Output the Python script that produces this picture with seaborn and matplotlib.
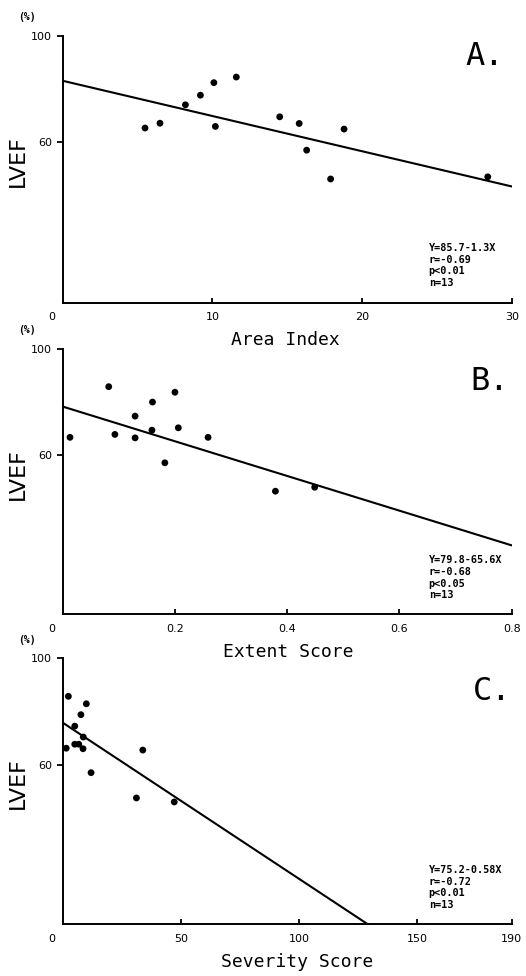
import numpy as np
import pandas as pd
import matplotlib
matplotlib.use("Agg")
import matplotlib.pyplot as plt
import seaborn as sns

# ---------------- data ----------------
area_index = [5.5, 6.5, 8.2, 9.2, 10.1, 10.2, 11.6, 14.5, 15.8, 16.3, 17.9, 18.8, 28.4]
lvef_a = [65.4, 67.2, 74.1, 77.7, 82.4, 66.0, 84.5, 69.6, 67.1, 57.1, 46.3, 65.0, 47.1]

extent_score = [0.013, 0.082, 0.093, 0.129, 0.129, 0.160, 0.159, 0.182, 0.200, 0.206, 0.259, 0.379, 0.449]
lvef_b = [66.7, 85.8, 67.8, 74.7, 66.5, 80.0, 69.4, 57.1, 83.7, 70.3, 66.7, 46.4, 47.9]

severity_score = [1.5, 2.4, 5.1, 5.1, 6.8, 7.7, 8.6, 8.7, 10.0, 12.0, 31.2, 33.9, 47.2]
lvef_c = [66.2, 85.7, 74.5, 67.7, 67.7, 78.8, 66.0, 70.4, 82.9, 57.0, 47.5, 65.5, 46.0]

# regression lines as drawn: intercept, slope, x-range
line_intercepts = [83.1, 78.3, 75.8]
line_slopes = [-1.32, -65.4, -0.587]
line_x_ranges = [(0, 30), (0, 0.8), (0, 129.1)]

x_labels = ["Area Index", "Extent Score", "Severity Score"]
x_ticks = [[10, 20, 30], [0.2, 0.4, 0.6, 0.8], [50, 100, 150, 190]]
x_tick_labels = [["10", "20", "30"], ["0.2", "0.4", "0.6", "0.8"], ["50", "100", "150", "190"]]
x_limits = [(0, 30), (0, 0.8), (0, 190)]
y_ticks = [60, 100]
y_tick_labels = ["60", "100"]
panel_letters = ["A.", "B.", "C."]
stats_text = [
    "Y=85.7-1.3X\nr=-0.69\np<0.01\nn=13",
    "Y=79.8-65.6X\nr=-0.68\np<0.05\nn=13",
    "Y=75.2-0.58X\nr=-0.72\np<0.01\nn=13",
]

# ---------------- style ----------------
sns.set_style("ticks")
plt.rcParams["font.family"] = ["DejaVu Sans"]
for key in ["text.color", "axes.labelcolor", "xtick.color", "ytick.color", "axes.edgecolor"]:
    plt.rcParams[key] = "black"

fig = plt.figure(figsize=(5.26, 9.76), dpi=100)

W, H = 526.0, 976.0
# axes boxes in pixels: left, top(y=100), right, bottom(axis)
boxes = [(62.7, 35.7, 511.7, 302.5), (62.7, 349.0, 511.7, 614.3), (62.7, 658.3, 511.7, 924.3)]
letter_pos = [(0.896, 0.980), (0.907, 0.935), (0.914, 0.933)]
xlabel_x = [0.497, 0.502, 0.523]

xs = [area_index, extent_score, severity_score]
ys = [lvef_a, lvef_b, lvef_c]

for i in range(3):
    l, t, r, b = boxes[i]
    ax = fig.add_axes([l / W, 1 - b / H, (r - l) / W, (b - t) / H])
    df = pd.DataFrame({"x": xs[i], "LVEF": ys[i]})
    sns.scatterplot(data=df, x="x", y="LVEF", ax=ax, color="black", s=24,
                    edgecolor="none", zorder=3)
    x0, x1 = line_x_ranges[i]
    lx = np.array([x0, x1])
    ly = line_intercepts[i] + line_slopes[i] * lx
    sns.lineplot(x=lx, y=ly, ax=ax, color="black", linewidth=1.5, zorder=2)

    ax.set_xlim(*x_limits[i])
    ax.set_ylim(0, 100)
    ax.set_xticks(x_ticks[i])
    ax.set_xticklabels(x_tick_labels[i])
    ax.set_yticks(y_ticks)
    ax.set_yticklabels(y_tick_labels)
    sns.despine(ax=ax)
    for s in ["left", "bottom"]:
        ax.spines[s].set_linewidth(1.4)
        ax.spines[s].set_color("black")
    ax.tick_params(axis="y", direction="out", length=4.5, width=1.3, pad=3, labelsize=8,
                   colors="black")
    ax.tick_params(axis="x", direction="in", length=3.5, width=1.3, pad=7, labelsize=8,
                   colors="black")

    ax.set_ylabel("")
    ax.set_xlabel(x_labels[i], family="DejaVu Sans Mono", fontsize=13, color="black")
    ax.xaxis.set_label_coords(xlabel_x[i], -0.108)
    ax.xaxis.label.set_va("top")

    ax.text(-0.0996, 0.53, "LVEF", transform=ax.transAxes, rotation=90,
            ha="center", va="center", fontsize=16, color="black")
    ax.annotate("0", xy=(0, 0), xycoords="axes fraction", xytext=(-7.6, -10.4),
                textcoords="offset points", ha="center", va="center", fontsize=8)
    ax.annotate("(%)", xy=(0, 1), xycoords="axes fraction", xytext=(-26, 13.5),
                textcoords="offset points", ha="center", va="center", fontsize=7,
                family="DejaVu Sans Mono", fontweight="bold")
    ax.text(letter_pos[i][0], letter_pos[i][1], panel_letters[i], transform=ax.transAxes,
            ha="left", va="top", fontsize=23, family="DejaVu Sans Mono")
    ax.text(0.815, 0.222, stats_text[i], transform=ax.transAxes, ha="left", va="top",
            fontsize=7.3, family="DejaVu Sans Mono", fontweight="bold", linespacing=1.2)

fig.savefig("out.png", dpi=100)
